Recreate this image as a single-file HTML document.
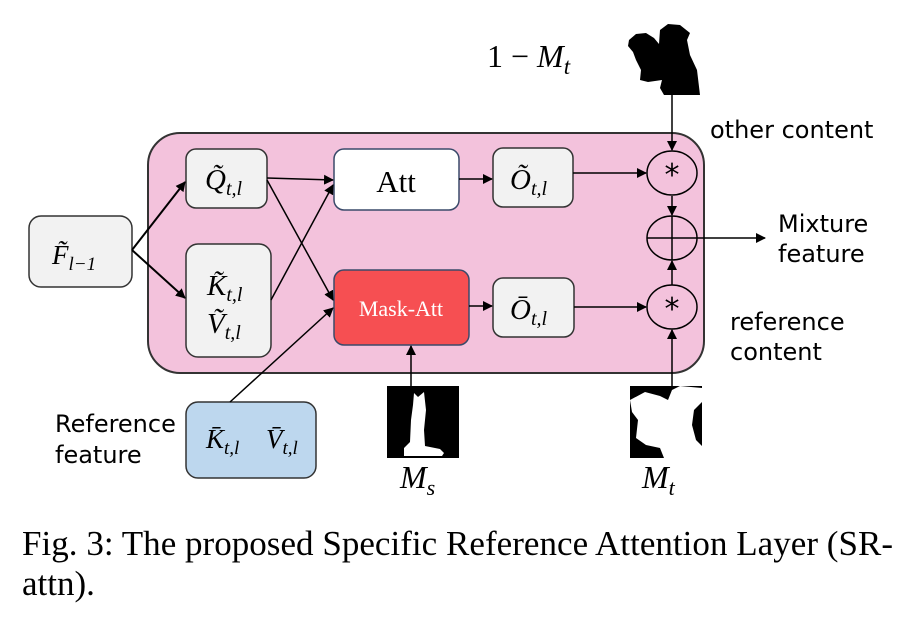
<!DOCTYPE html>
<html><head><meta charset="utf-8"><style>
body{margin:0;background:#fff;width:923px;height:637px;overflow:hidden}
svg{display:block}
.m{font-family:"Liberation Serif",serif;font-style:italic}
.s{font-family:"DejaVu Sans","Liberation Sans",sans-serif}
</style></head><body>
<svg width="923" height="637" viewBox="0 0 923 637" xmlns="http://www.w3.org/2000/svg">
<defs><marker id="a" markerWidth="10" markerHeight="10" refX="9" refY="5" orient="auto" markerUnits="userSpaceOnUse"><path d="M0,0 L10,5 L0,10 z" fill="#000"/></marker></defs>
<rect x="148" y="133" width="556" height="240" rx="32" fill="#f3c2dc" stroke="#333" stroke-width="2"/>
<g stroke="#333" stroke-width="1.5">
<rect x="29" y="216" width="103" height="71" rx="12" fill="#f2f2f2"/>
<rect x="186" y="149" width="81" height="59" rx="10" fill="#f2f2f2"/>
<rect x="186" y="244" width="85" height="113" rx="12" fill="#f2f2f2"/>
<rect x="334" y="149" width="125" height="61" rx="10" fill="#fff" stroke="#3a4a6a"/>
<rect x="334" y="270" width="135" height="75" rx="10" fill="#f64f52" stroke="#3a4a6a"/>
<rect x="493" y="148" width="80" height="59" rx="10" fill="#f2f2f2"/>
<rect x="493" y="278" width="81" height="59" rx="10" fill="#f2f2f2"/>
<rect x="186" y="402" width="130" height="76" rx="12" fill="#bdd7ee"/>
</g>
<g stroke="#000" stroke-width="2" fill="none" marker-end="url(#a)">
<line x1="132" y1="250" x2="185" y2="182"/>
<line x1="132" y1="250" x2="185" y2="298"/>
</g>
<g stroke="#000" stroke-width="1.5" fill="none" marker-end="url(#a)">
<line x1="267" y1="178" x2="333" y2="180"/>
<line x1="267" y1="180" x2="333" y2="300"/>
<line x1="271" y1="300" x2="333" y2="185"/>
<line x1="230" y1="402" x2="333" y2="308"/>
<line x1="459" y1="179" x2="492" y2="179"/>
<line x1="469" y1="306" x2="492" y2="306"/>
<line x1="573" y1="173" x2="646" y2="173"/>
<line x1="574" y1="307" x2="646" y2="307"/>
<line x1="672" y1="92" x2="672" y2="150"/>
<line x1="672" y1="196" x2="672" y2="215"/>
<line x1="672" y1="285" x2="672" y2="261"/>
<line x1="672" y1="390" x2="672" y2="330"/>
<line x1="411" y1="388" x2="411" y2="346"/>
<line x1="697" y1="238" x2="765" y2="238"/>
</g>
<g stroke="#000" stroke-width="1.5" fill="none">
<ellipse cx="672" cy="173" rx="25" ry="22"/>
<ellipse cx="672" cy="238" rx="25" ry="22"/>
<ellipse cx="672" cy="307" rx="25" ry="22"/>
<line x1="647" y1="238" x2="697" y2="238"/><line x1="672" y1="216" x2="672" y2="260"/>
</g>
<text x="672" y="185" font-size="30" text-anchor="middle" class="s">*</text>
<text x="672" y="319" font-size="30" text-anchor="middle" class="s">*</text>
<!-- masks -->
<path d="M629,40 L636,34 L646,33 L654,38 L659,44 L660,30 L668,24 L680,25 L690,33 L687,40 L690,55 L697,70 L700,95 L664,95 L660,88 L662,80 L648,82 L640,80 L641,70 L636,60 L633,52 L628,46 Z" fill="#000"/>
<rect x="387" y="386" width="72" height="72" fill="#000"/>
<path d="M414,393 L418,397 L424,392 L426,410 L424,430 L425,446 L440,449 L444,453 L442,456 L404,456 L404,448 L410,442 L411,420 L413,405 Z" fill="#fff"/>
<rect x="630" y="386" width="72" height="72" fill="#000"/>
<path d="M630,400 L645,392 L660,396 L668,400 L672,390 L680,386 L702,388 L702,402 L694,410 L692,425 L696,440 L702,446 L702,458 L664,458 L660,448 L646,445 L636,438 L638,420 L632,412 Z" fill="#fff"/>
<!-- labels -->
<text x="52" y="264" font-size="27" class="m">F̃<tspan font-size="19" dy="6">l−1</tspan></text>
<text x="205" y="189" font-size="29" class="m">Q̃<tspan font-size="20" dy="6">t,l</tspan></text>
<text x="207" y="295" font-size="29" class="m">K̃<tspan font-size="20" dy="6">t,l</tspan></text>
<text x="207" y="333" font-size="29" class="m">Ṽ<tspan font-size="20" dy="6">t,l</tspan></text>
<text x="396" y="192" font-size="31" text-anchor="middle" font-family="Liberation Serif,serif">Att</text>
<text x="401" y="316" font-size="22" text-anchor="middle" fill="#fff" font-family="Liberation Serif,serif">Mask-Att</text>
<text x="510" y="189" font-size="29" class="m">Õ<tspan font-size="20" dy="6">t,l</tspan></text>
<text x="510" y="319" font-size="29" class="m">Ō<tspan font-size="20" dy="6">t,l</tspan></text>
<text x="206" y="448" font-size="27" class="m">K̄<tspan font-size="19" dy="6">t,l</tspan></text>
<text x="266" y="448" font-size="27" class="m">V̄<tspan font-size="19" dy="6">t,l</tspan></text>
<text x="487" y="67" font-size="32" font-family="Liberation Serif,serif">1 − <tspan class="m">M</tspan><tspan class="m" font-size="23" dy="7">t</tspan></text>
<text x="710" y="138" font-size="24" class="s">other content</text>
<text x="778" y="232" font-size="24" class="s">Mixture</text>
<text x="778" y="262" font-size="24" class="s">feature</text>
<text x="730" y="330" font-size="24" class="s">reference</text>
<text x="730" y="360" font-size="24" class="s">content</text>
<text x="55" y="432" font-size="24" class="s">Reference</text>
<text x="55" y="463" font-size="24" class="s">feature</text>
<text x="400" y="488" font-size="32" class="m">M<tspan font-size="22" dy="7">s</tspan></text>
<text x="642" y="488" font-size="32" class="m">M<tspan font-size="22" dy="7">t</tspan></text>
<text x="22" y="555" font-size="35" font-family="Liberation Serif,serif" textLength="871">Fig. 3: The proposed Specific Reference Attention Layer (SR-</text>
<text x="22" y="595" font-size="35" font-family="Liberation Serif,serif">attn).</text>
</svg>
</body></html>
